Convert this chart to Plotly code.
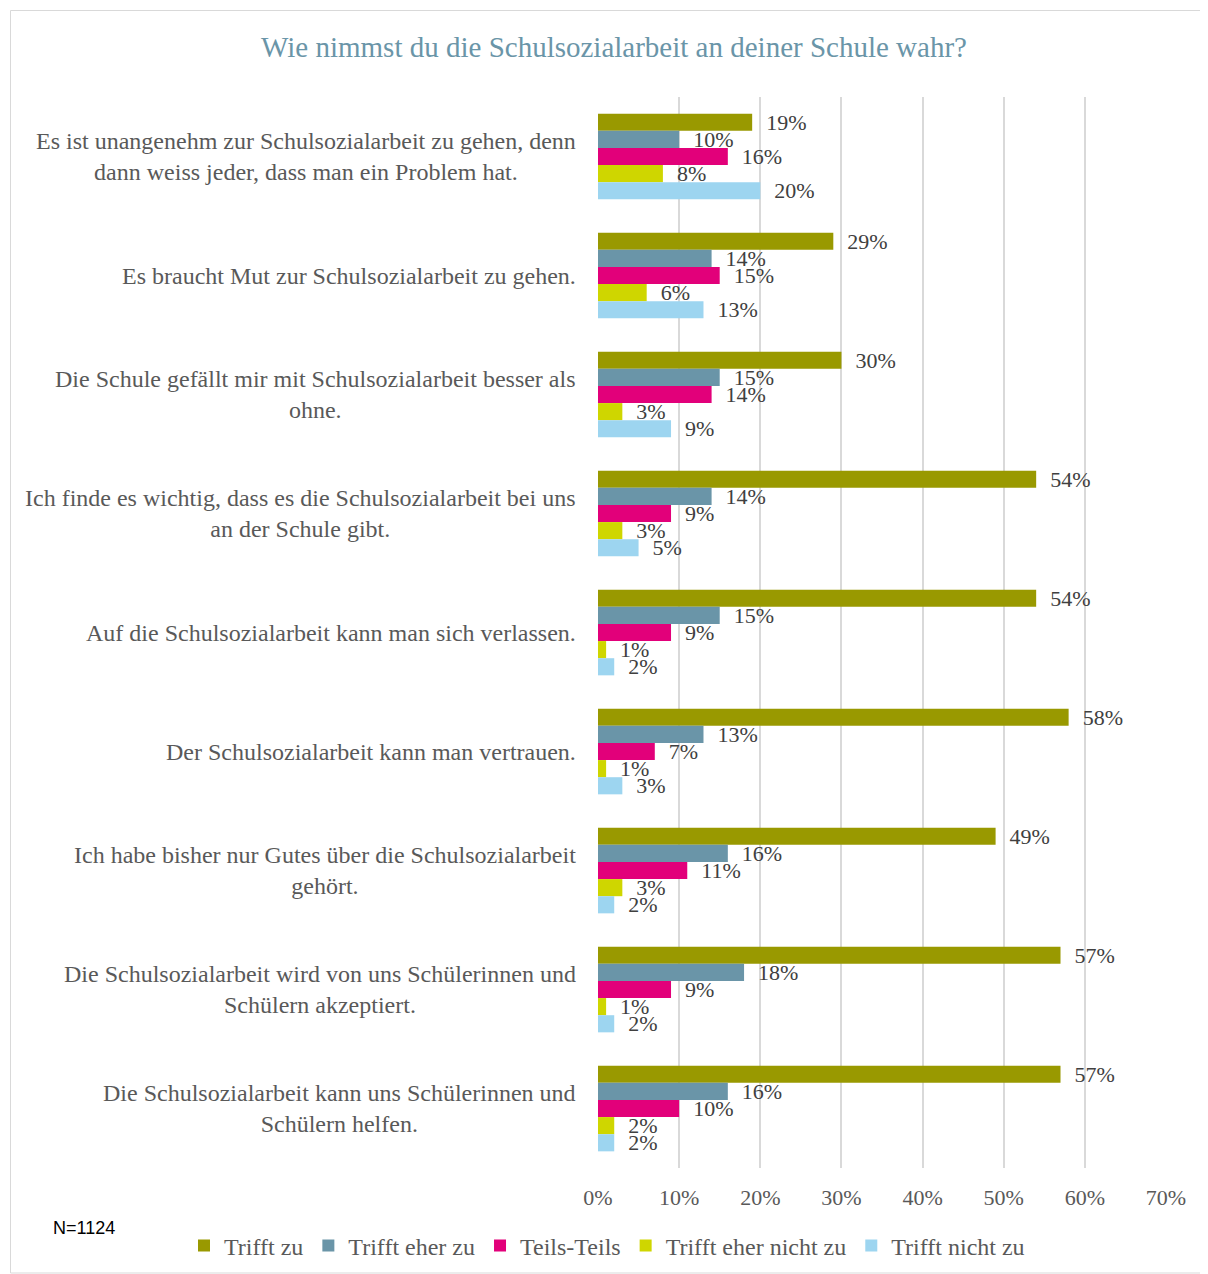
import plotly.graph_objects as go

categories = [
    "Es ist unangenehm zur Schulsozialarbeit zu gehen, denn<br>dann weiss jeder, dass man ein Problem hat.",
    "Es braucht Mut zur Schulsozialarbeit zu gehen.",
    "Die Schule gefällt mir mit Schulsozialarbeit besser als<br>ohne.",
    "Ich finde es wichtig, dass es die Schulsozialarbeit bei uns<br>an der Schule gibt.",
    "Auf die Schulsozialarbeit kann man sich verlassen.",
    "Der Schulsozialarbeit kann man vertrauen.",
    "Ich habe bisher nur Gutes über die Schulsozialarbeit<br>gehört.",
    "Die Schulsozialarbeit wird von uns Schülerinnen und<br>Schülern akzeptiert.",
    "Die Schulsozialarbeit kann uns Schülerinnen und<br>Schülern helfen.",
]
series_names = ["Trifft zu", "Trifft eher zu", "Teils-Teils", "Trifft eher nicht zu", "Trifft nicht zu"]
trifft_zu = [19, 29, 30, 54, 54, 58, 49, 57, 57]
trifft_eher_zu = [10, 14, 15, 14, 15, 13, 16, 18, 16]
teils_teils = [16, 15, 14, 9, 9, 7, 11, 9, 10]
trifft_eher_nicht_zu = [8, 6, 3, 3, 1, 1, 3, 1, 2]
trifft_nicht_zu = [20, 13, 9, 5, 2, 3, 2, 2, 2]
tick_vals = [0, 10, 20, 30, 40, 50, 60, 70]
tick_text = ["0%", "10%", "20%", "30%", "40%", "50%", "60%", "70%"]

series_values = [trifft_zu, trifft_eher_zu, teils_teils, trifft_eher_nicht_zu, trifft_nicht_zu]
colors = ["#999900", "#6a95a8", "#e2007a", "#cfd600", "#9dd5f0"]

SERIF = "Liberation Serif, Times New Roman, serif"

fig = go.Figure()
for name, vals, col in zip(series_names, series_values, colors):
    fig.add_trace(go.Bar(
        y=categories, x=vals, name=name, orientation="h",
        marker=dict(color=col, line=dict(width=0)),
        text=["\u00a0\u00a0" + f"{v}%" for v in vals],
        textposition="outside", constraintext="none", cliponaxis=False,
        textfont=dict(family=SERIF, size=22, color="#404040"),
        hoverinfo="x+name",
    ))

# page has an 8px body margin; positions below are reference pixels minus 8
W, H = 1200, 1266
L, R, T, B = 590, 42, 89, 106
pw, ph = W - L - R, H - T - B

def px_x(px):
    return (px - L) / pw

def px_y(py):
    return (H - B - py) / ph

for cat in categories:
    fig.add_annotation(
        x=px_x(570), xref="paper", y=cat, yref="y",
        text=cat, showarrow=False, xanchor="right", yanchor="middle", align="center",
        font=dict(family=SERIF, size=24, color="#595959"),
    )

fig.add_annotation(
    x=px_x(43), xref="paper", y=px_y(1220), yref="paper",
    text="N=1124", showarrow=False, xanchor="left", yanchor="middle",
    font=dict(family="Liberation Sans Narrow, Liberation Sans, Arial, sans-serif", size=18, color="#000000"),
)

fig.add_shape(
    type="rect", xref="paper", yref="paper",
    x0=px_x(2.5), x1=px_x(1199), y0=px_y(1265), y1=px_y(2.5),
    line=dict(color="#d9d9d9", width=1), fillcolor="rgba(0,0,0,0)", layer="below",
)

fig.update_layout(
    width=W, height=H,
    margin=dict(l=L, r=R, t=T, b=B, autoexpand=False),
    paper_bgcolor="white", plot_bgcolor="white",
    barmode="group", bargap=0.28, bargroupgap=0,
    title=dict(text="Wie nimmst du die Schulsozialarbeit an deiner Schule wahr?",
               x=606 / W, xanchor="center",
               y=1 - 39 / H, yanchor="middle",
               font=dict(family=SERIF, size=29, color="#6a95a8")),
    xaxis=dict(range=[0, 70], tickvals=tick_vals, ticktext=tick_text,
               showgrid=True, gridcolor="#d9d9d9", gridwidth=2,
               zeroline=False, showline=False, ticks="",
               tickfont=dict(family=SERIF, size=22, color="#595959"),
               ticklabelstandoff=14, fixedrange=True),
    yaxis=dict(autorange="reversed", showticklabels=False, showgrid=False,
               zeroline=False, showline=False, ticks="", fixedrange=True),
    legend=dict(orientation="h", x=px_x(176), xanchor="left", y=px_y(1238), yanchor="middle",
                font=dict(family=SERIF, size=24, color="#595959"),
                traceorder="normal", itemwidth=30, bgcolor="rgba(0,0,0,0)"),
    showlegend=True,
)

fig.write_html("out.html")
